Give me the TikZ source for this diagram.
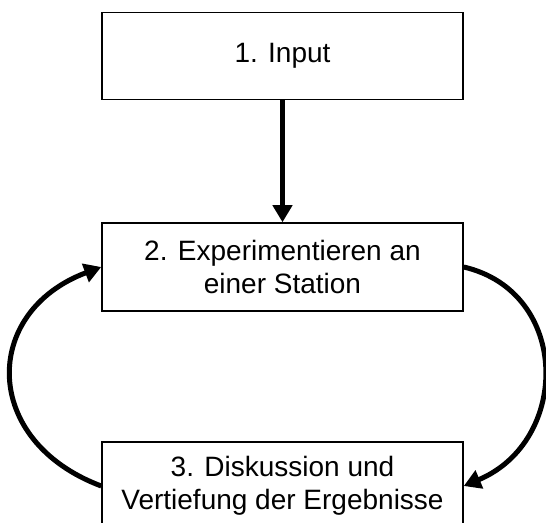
\documentclass[tikz,border=0pt]{standalone}
\usepackage{fontspec}
\setmainfont{Liberation Sans}
\usetikzlibrary{arrows.meta}

\tikzset{
	stepbox/.style={draw, line width=1.5pt, minimum width=361pt, minimum height=87pt, align=center, inner sep=0pt, font=\fontsize{28}{33}\selectfont},
	flowarrow/.style={line width=5pt, -{Triangle[length=17pt,width=19pt]}}
}

\begin{document}
\begin{tikzpicture}[x=1pt, y=1pt]
			%%%%% START %%%%%
			
			\useasboundingbox (0, 0) rectangle (546, 522);
			\clip (0, 0) rectangle (546, 522);
			
			\node[stepbox] (input) at (282.5, 466) {1. Input};
			\node[stepbox, minimum height=88pt] (station) at (282.5, 255) {2. Experimentieren an\\einer Station};
			\node[stepbox, minimum height=88pt] (diskussion) at (282.5, 36) {3. Diskussion und\\Vertiefung der Ergebnisse};
			
			\draw[flowarrow] (input.south) -- (station.north);
			
			\draw[flowarrow] (diskussion.west) .. controls +(-120, 45) and +(-120, -45) .. (station.west);
			\draw[flowarrow] (station.east) .. controls +(107, -25) and +(107, 45) .. (diskussion.east);
			
			%%%%% END %%%%%
\end{tikzpicture}
\end{document}
